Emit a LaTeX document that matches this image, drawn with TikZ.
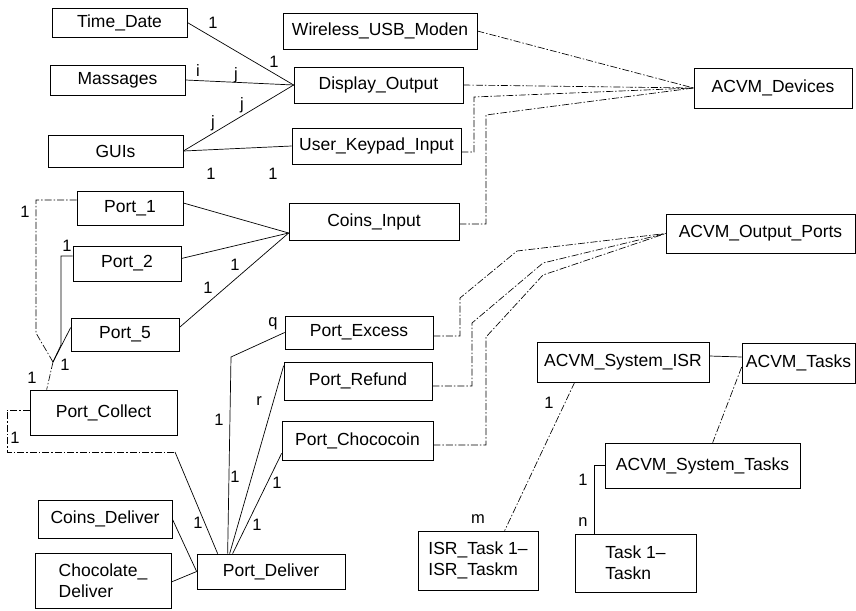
\documentclass[tikz,border=0pt]{standalone}
\usepackage{fontspec}
\setmainfont{Liberation Sans}
\begin{document}
\begin{tikzpicture}[x=1pt,y=-1pt,
  box/.style={draw, line width=0.7pt, inner sep=0pt, align=left, font=\fontsize{17.5}{21}\selectfont},
  lbl/.style={inner sep=0pt, font=\fontsize{16.5}{18}\selectfont},
  dd/.style={line width=0.65pt, dash pattern=on 7pt off 2pt on 1.5pt off 2pt},
  sl/.style={line width=0.7pt}]
\useasboundingbox (0,0) rectangle (856,610);
% boxes
\node[box, minimum width=135pt, minimum height=29pt] (td) at (119.5,22.5) {Time\_Date};
\node[box, minimum width=135pt, minimum height=30pt] (ms) at (117.5,80) {Massages};
\node[box, minimum width=135pt, minimum height=32pt] (gui) at (115.5,151) {GUIs};
\node[box, minimum width=194pt, minimum height=36pt] (wu) at (380,31) {Wireless\_USB\_Moden};
\node[box, minimum width=169pt, minimum height=36pt] (do) at (378.5,85) {Display\_Output};
\node[box, minimum width=169pt, minimum height=36pt] (uk) at (376.5,146) {User\_Keypad\_Input};
\node[box, minimum width=158pt, minimum height=40pt] (dev) at (773,88) {ACVM\_Devices};
\node[box, minimum width=106pt, minimum height=34pt] (p1) at (130,208) {Port\_1};
\node[box, minimum width=108pt, minimum height=35pt] (p2) at (127,263.5) {Port\_2};
\node[box, minimum width=108pt, minimum height=33pt] (p5) at (125,334.5) {Port\_5};
\node[box, minimum width=170pt, minimum height=37pt] (ci) at (374,221.5) {Coins\_Input};
\node[box, minimum width=189pt, minimum height=39pt] (op) at (760.5,233.5) {ACVM\_Output\_Ports};
\node[box, minimum width=148pt, minimum height=33pt] (pe) at (359,332.5) {Port\_Excess};
\node[box, minimum width=148pt, minimum height=38pt] (pr) at (358,381) {Port\_Refund};
\node[box, minimum width=151pt, minimum height=39pt] (pc) at (357.5,440.5) {Port\_Chococoin};
\node[box, minimum width=147pt, minimum height=45pt] (pcol) at (103.5,412.5) {Port\_Collect};
\node[box, minimum width=134pt, minimum height=38pt] (cd) at (105,519) {Coins\_Deliver};
\node[box, minimum width=136pt, minimum height=55pt] (chd) at (103,580.5) {Chocolate\_\\Deliver};
\node[box, minimum width=148pt, minimum height=35pt] (pd) at (271,571.5) {Port\_Deliver};
\node[box, minimum width=172pt, minimum height=40pt] (isr) at (623,362) {ACVM\_System\_ISR};
\node[box, minimum width=113pt, minimum height=40pt] (tasks) at (798.5,363) {ACVM\_Tasks};
\node[box, minimum width=195pt, minimum height=45pt] (st) at (702.5,465.5) {ACVM\_System\_Tasks};
\node[box, minimum width=120pt, minimum height=59pt] (isrt) at (478,560.5) {ISR\_Task 1--\\ISR\_Taskm};
\node[box, minimum width=121pt, minimum height=58pt] (tk) at (635.5,563) {Task 1--\\Taskn};
% junction coordinates
\coordinate (jn) at (53,362);
\coordinate (cb) at (175,452);
% solid connectors to Display/Keypad
\draw[sl] (td.east) -- (do.west);
\draw[sl] (ms.east) -- (do.west);
\draw[sl] (gui.east) -- (do.west);
\draw[sl] (gui.east) -- (uk.west);
% ports to coins input
\draw[sl] ([yshift=5pt]p1.east) -- ([yshift=-11.5pt]ci.west);
\draw[sl] ([yshift=5pt]p2.east) -- ([yshift=-11.5pt]ci.west);
\draw[sl] ([yshift=7pt]p5.east) -- ([yshift=-11.5pt]ci.west);
% devices
\draw[dd] (wu.east) -- (dev.west);
\draw[dd] (do.east) -- (dev.west);
\draw[dd] ([yshift=-6pt]uk.east) -- (474,152) -- (474,97) -- (dev.west);
\draw[dd] ([yshift=-2.5pt]ci.east) -- (486,224) -- (486,115) -- (dev.west);
% output ports
\draw[dd] ([yshift=-3.5pt]pe.east) -- (460,336) -- (460,298) -- (517,251) -- (op.west);
\draw[dd] ([yshift=-5pt]pr.east) -- (472,386) -- (472,323) -- (543,263) -- (op.west);
\draw[dd] ([yshift=-4.5pt]pc.east) -- (486,445) -- (486,337) -- (543,275) -- (op.west);
% port deliver
\draw[sl] (pe.west) -- (231,357) -- ([xshift=31pt]pd.north west);
\draw[sl] ([yshift=-4pt]pr.north west) -- ([xshift=33pt]pd.north west);
\draw[sl] ([yshift=7pt]pc.south west) -- ([xshift=36pt]pd.north west);
\draw[dd] ([yshift=2.5pt]pcol.west) -- (7,410) -- (7,452) -- (cb);
\draw[sl] (cb) -- ([xshift=21pt]pd.north west);
\draw[sl] (cd.east) -- (pd.west);
\draw[sl] ([yshift=-1.5pt]chd.east) -- (pd.west);
% ports to collect
\draw[dd] ([yshift=8pt]p1.west) -- (36,200) -- (36,333) -- (jn);
\draw[sl] ([yshift=7.5pt]p2.west) -- (61,256) -- (61,345) -- (jn);
\draw[sl] ([yshift=-10pt]p5.north west) -- (jn);
\draw[dd] (jn) -- ([xshift=17pt]pcol.north west);
% system
\draw[sl] ([yshift=6pt]isr.east) -- ([yshift=6pt]tasks.west);
\draw[dd] ([xshift=38pt]isr.south west) -- ([xshift=87pt]isrt.north west);
\draw[dd] ([yshift=-4pt]tasks.west) -- ([xshift=108pt]st.north west);
\draw[sl] (st.west) -| ([xshift=20pt]tk.north west);
% labels
\node[lbl] (l1) at (213,23) {1};
\node[lbl] (l2) at (274,62) {1};
\node[lbl] (l3) at (198,71) {i};
\node[lbl] (l4) at (236,75) {j};
\node[lbl] (l5) at (242,105) {j};
\node[lbl] (l6) at (213,123) {j};
\node[lbl] (l7) at (211,174) {1};
\node[lbl] (l8) at (273,174) {1};
\node[lbl] (l9) at (235,265) {1};
\node[lbl] (l10) at (208,288) {1};
\node[lbl] (l11) at (273,324) {q};
\node[lbl] (l12) at (25,212) {1};
\node[lbl] (l13) at (67,246) {1};
\node[lbl] (l14) at (65,365) {1};
\node[lbl] (l15) at (32,378) {1};
\node[lbl] (l16) at (15,438) {1};
\node[lbl] (l17) at (219,420) {1};
\node[lbl] (l18) at (259,401) {r};
\node[lbl] (l19) at (235,477) {1};
\node[lbl] (l20) at (277,483) {1};
\node[lbl] (l21) at (198,523) {1};
\node[lbl] (l22) at (257,525) {1};
\node[lbl] (l23) at (549,403) {1};
\node[lbl] (l24) at (478,519) {m};
\node[lbl] (l25) at (583,480) {1};
\node[lbl] (l26) at (583,522) {n};
\end{tikzpicture}
\end{document}
